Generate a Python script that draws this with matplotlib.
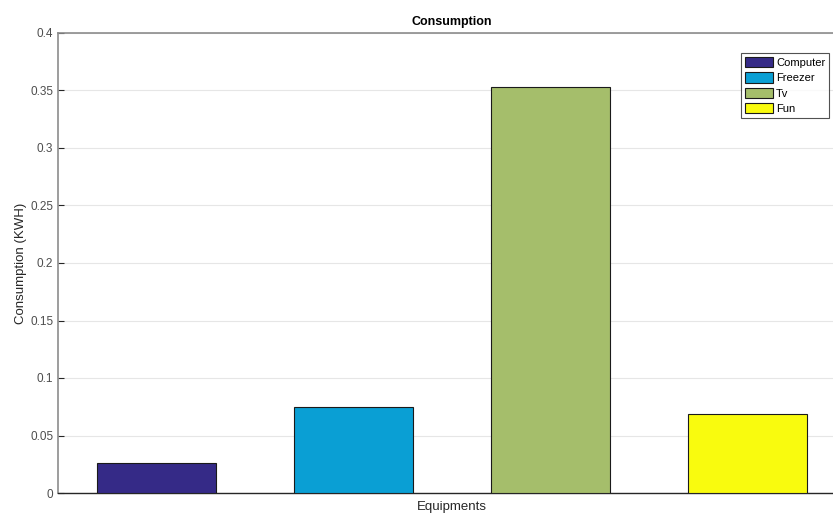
import matplotlib
matplotlib.use('Agg')
import matplotlib.pyplot as plt
from matplotlib.patches import Patch

plt.rcParams['font.family'] = ['Liberation Sans', 'DejaVu Sans']

equipments = ['Computer', 'Freezer', 'Tv', 'Fun']
consumption = [0.0258, 0.0748, 0.353, 0.0687]
colors = ['#352a87', '#0a9fd4', '#a5be6b', '#f9fb0e']
yticks = [0, 0.05, 0.1, 0.15, 0.2, 0.25, 0.3, 0.35, 0.4]
ytick_labels = ['0', '0.05', '0.1', '0.15', '0.2', '0.25', '0.3', '0.35', '0.4']

fig = plt.figure(figsize=(8.33, 5.15), dpi=100)
# axes run off the right edge, as in the cropped original
ax = fig.add_axes([58 / 833, 1 - 493 / 515, 788 / 833, 460 / 515])

positions = range(1, len(equipments) + 1)
ax.bar(positions, consumption, width=0.6, color=colors,
       edgecolor='#1a1a1a', linewidth=0.8, zorder=3)

ax.set_xlim(0.5, 4.5)
ax.set_ylim(0, 0.4)
ax.set_yticks(yticks)
ax.set_yticklabels(ytick_labels)
ax.set_xticks([])
ax.yaxis.grid(True, color='#e6e6e6', linewidth=0.8, zorder=0)
ax.tick_params(axis='y', labelsize=8.5, colors='#262626', length=4,
               width=0.8, direction='in', labelcolor='#4d4d4d')

for side in ['left', 'top', 'right']:
    ax.spines[side].set_color('#8c8c8c')
ax.spines['bottom'].set_color('#262626')
ax.spines['left'].set_linewidth(1.2)
ax.spines['top'].set_linewidth(1.2)
ax.spines['bottom'].set_linewidth(1.0)

ax.set_title('Consumption', fontsize=9, fontweight='bold', pad=6)
ax.set_xlabel('Equipments', fontsize=9.5, color='#262626', labelpad=6)
ax.set_ylabel('Consumption (KWH)', fontsize=9.5, color='#262626', labelpad=2)

handles = [Patch(facecolor=c, edgecolor='#1a1a1a', linewidth=0.8) for c in colors]
leg = ax.legend(handles, equipments, loc='upper left',
                bbox_to_anchor=((741 - 58) / 788, (493 - 53) / 460),
                fontsize=8, frameon=True, fancybox=False,
                handlelength=2.5, handleheight=1.05, handletextpad=0.3,
                labelspacing=0.4, borderpad=0.35, borderaxespad=0)
leg.get_frame().set_edgecolor('#262626')
leg.get_frame().set_linewidth(0.8)

fig.savefig('out.png', dpi=100)
